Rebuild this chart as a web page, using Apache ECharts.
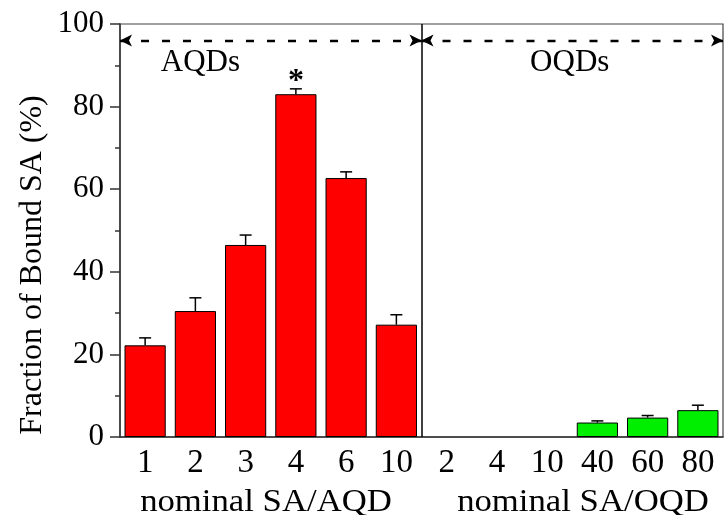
<!DOCTYPE html>
<html>
<head>
<meta charset="utf-8">
<script src="https://cdn.jsdelivr.net/npm/echarts@6/dist/echarts.min.js"></script>
<style>
html, body { margin: 0; padding: 0; background: #fff; }
#bound_chart { width: 724px; height: 515px; }
</style>
</head>
<body>
<div id="bound_chart"></div>
<script>
var categories = ['1', '2', '3', '4', '6', '10', '2 ', '4 ', '10 ', '40', '60', '80'];
var aqdValues = [22.2, 30.5, 46.5, 83.0, 62.7, 27.2, null, null, null, null, null, null];
var oqdValues = [null, null, null, null, null, null, null, null, null, 3.5, 4.7, 6.5];
var errUpper = [24.0, 33.7, 48.9, 84.3, 64.2, 29.6, null, null, null, 3.9, 5.2, 7.7];
var groupNames = ['AQDs', 'OQDs'];
var axisTitles = ['nominal SA/AQD', 'nominal SA/OQD'];
var yTitle = 'Fraction of Bound SA (%)';

var serif = '"Liberation Serif", "Times New Roman", serif';

function errData() {
	var out = [];
	for (var i = 0; i < categories.length; i++) {
		var mean = aqdValues[i] != null ? aqdValues[i] : oqdValues[i];
		if (mean == null) continue;
		out.push([i, mean, errUpper[i]]);
	}
	return out;
}

function drawChart() {
	var Chart = echarts.init(document.getElementById('bound_chart'));
	var option = {
		animation: false,
		grid: {
			left: 120, right: 1, top: 24, bottom: 78,
			show: true, borderColor: '#444', borderWidth: 1.2
		},
		xAxis: [{
			type: 'category',
			data: categories,
			axisLine: { lineStyle: { color: '#333', width: 1.5 } },
			axisTick: { alignWithLabel: true, length: 7, lineStyle: { color: '#333', width: 1.5 } },
			axisLabel: { color: '#000', fontFamily: serif, fontSize: 33, margin: 10,
				formatter: function (v) { return v.trim(); } }
		}, {
			type: 'value', min: 0, max: 12, show: false
		}],
		yAxis: {
			type: 'value',
			min: 0, max: 100, interval: 20,
			axisLine: { show: true, lineStyle: { color: '#333', width: 1.5 } },
			axisTick: { show: true, length: 10, lineStyle: { color: '#333', width: 1.5 } },
			minorTick: { show: true, splitNumber: 2, length: 5, lineStyle: { color: '#333', width: 1.5 } },
			splitLine: { show: false },
			axisLabel: { color: '#000', fontFamily: serif, fontSize: 31, margin: 16 }
		},
		series: [{
			name: 'AQD', type: 'bar', stack: 'b',
			data: aqdValues,
			barCategoryGap: '18%',
			itemStyle: { color: '#ff0000', borderColor: '#000', borderWidth: 1 }
		}, {
			name: 'OQD', type: 'bar', stack: 'b',
			data: oqdValues,
			itemStyle: { color: '#00ee00', borderColor: '#000', borderWidth: 1 }
		}, {
			name: 'err', type: 'custom',
			data: errData(),
			clip: false, z: 5,
			renderItem: function (params, api) {
				var top = api.coord([api.value(0), api.value(2)]);
				var base = api.coord([api.value(0), api.value(1)]);
				var style = { stroke: '#000', lineWidth: 1.5 };
				return {
					type: 'group',
					children: [
						{ type: 'line', shape: { x1: base[0], y1: base[1], x2: top[0], y2: top[1] }, style: style },
						{ type: 'line', shape: { x1: top[0] - 6, y1: top[1], x2: top[0] + 6, y2: top[1] }, style: style }
					]
				};
			}
		}, {
			name: 'notes', type: 'scatter',
			xAxisIndex: 1,
			symbolSize: 0,
			itemStyle: { opacity: 1 },
			data: [[1.6, 90.5, groupNames[0]], [8.95, 90.5, groupNames[1]]],
			label: {
				show: true, position: 'inside', color: '#000', opacity: 1,
				fontFamily: serif, fontSize: 31,
				formatter: function (p) { return p.data[2]; }
			},
			markLine: {
				silent: true,
				symbol: ['arrow', 'arrow'],
				symbolSize: [9, 12],
				label: { show: false },
				lineStyle: { color: '#000', type: [8, 13], width: 2.4, opacity: 1 },
				data: [
					[{ coord: [0, 96] }, { coord: [6, 96] }],
					[{ coord: [6, 96] }, { coord: [12, 96] }]
				]
			}
		}, {
			name: 'star', type: 'scatter',
			xAxisIndex: 1,
			symbolSize: 0,
			itemStyle: { opacity: 1 },
			data: [[3.5, 86, '*']],
			label: {
				show: true, position: 'inside', color: '#000', opacity: 1,
				fontFamily: serif, fontSize: 32, fontWeight: 'bold',
				formatter: function (p) { return p.data[2]; }
			}
		}, {
			name: 'divider', type: 'line',
			xAxisIndex: 1,
			data: [],
			markLine: {
				silent: true,
				symbol: ['none', 'none'],
				label: { show: false },
				lineStyle: { color: '#000', type: 'solid', width: 1.5 },
				data: [{ xAxis: 6 }]
			}
		}],
		graphic: [
			{ type: 'text', x: 33, y: 265, rotation: Math.PI / 2,
				style: { text: yTitle, fill: '#000', font: '32px ' + serif, textAlign: 'center', textVerticalAlign: 'middle' } },
			{ type: 'text', x: 266, y: 503, scaleX: 1.12,
				style: { text: axisTitles[0], fill: '#000', font: '31px ' + serif, textAlign: 'center', textVerticalAlign: 'middle' } },
			{ type: 'text', x: 583, y: 503, scaleX: 1.12,
				style: { text: axisTitles[1], fill: '#000', font: '31px ' + serif, textAlign: 'center', textVerticalAlign: 'middle' } }
		]
	};
	Chart.setOption(option);
}

drawChart();
</script>
</body>
</html>
